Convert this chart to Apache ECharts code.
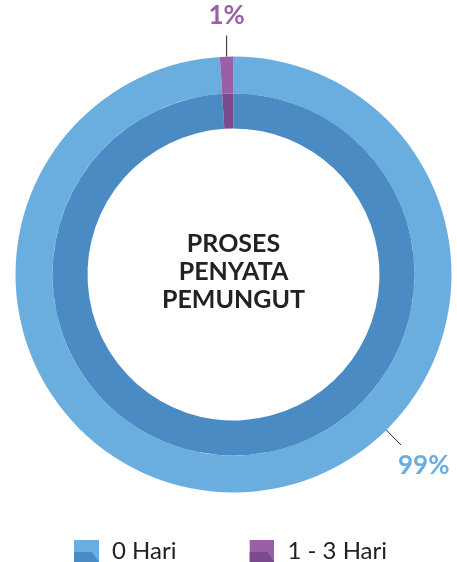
<!DOCTYPE html>
<html>
<head>
<meta charset="utf-8">
<script src="https://cdn.jsdelivr.net/npm/echarts@6/dist/echarts.min.js"></script>
<style>
  html, body { margin: 0; padding: 0; background: #ffffff; }
  #chart { width: 457px; height: 562px; }
</style>
</head>
<body>
<div id="chart"></div>
<script>
// Waktu proses penyata pemungut
const categories = ['0 Hari', '1 - 3 Hari'];
const shares = [99, 1];
const outerColors = ['#6aaee0', '#9b5fa9'];
const innerColors = ['#4a8bc4', '#7b4a8c'];
const centerTitle = 'PROSES\nPENYATA\nPEMUNGUT';

const FONT = 'Lato, "Noto Sans", sans-serif';
const CX = 233.5, CY = 274.5;
const R_OUT = 218, R_MID = 181, R_IN = 146;
const LINE_LEN = 21;
// the large share's caption sits at the lower right of the ring
const BIG_LABEL_ANGLE = -45.5;

function legendIcon(light, dark) {
  const svg = "<svg xmlns='http://www.w3.org/2000/svg' width='25' height='22' viewBox='0 0 25 22' preserveAspectRatio='none'>" +
    "<rect width='25' height='22' fill='" + light + "'/>" +
    "<polygon points='0,12 18,12 25,22 0,22' fill='" + dark + "'/></svg>";
  return 'image://data:image/svg+xml;charset=utf-8,' + encodeURIComponent(svg);
}

function polar(angleDeg, r) {
  const a = angleDeg * Math.PI / 180;
  return [CX + r * Math.cos(a), CY - r * Math.sin(a)];
}

const total = shares.reduce((s, v) => s + v, 0);
// mid angle of each slice, going clockwise from the top
const midAngles = [];
(function () {
  let start = 90;
  shares.forEach(v => {
    const span = 360 * v / total;
    midAngles.push(start - span / 2);
    start -= span;
  });
})();

const chart = echarts.init(document.getElementById('chart'), null, { renderer: 'canvas' });

chart.setOption({
  animation: false,
  legend: {
    left: 69,
    top: 534,
    itemWidth: 25,
    itemHeight: 22,
    itemGap: 73,
    textStyle: { fontFamily: FONT, fontSize: 24, color: '#222222', padding: [0, 0, 0, 8] },
    data: categories.map((c, i) => ({
      name: c,
      icon: legendIcon(outerColors[i], innerColors[i]),
      itemStyle: { borderWidth: 0 }
    }))
  },
  graphic: [{
    type: 'text',
    x: CX,
    y: 230,
    style: {
      text: centerTitle,
      align: 'center',
      verticalAlign: 'top',
      fontFamily: FONT,
      fontWeight: 'bold',
      fontSize: 25,
      lineHeight: 28,
      fill: '#222222'
    }
  }],
  series: [
    {
      name: 'outer',
      type: 'pie',
      center: [CX, CY],
      radius: [R_MID, R_OUT],
      startAngle: 90,
      clockwise: true,
      avoidLabelOverlap: false,
      itemStyle: { borderWidth: 0 },
      emphasis: { disabled: true },
      label: {
        show: true,
        position: 'outside',
        fontFamily: FONT,
        fontWeight: 'bold',
        fontSize: 26,
        formatter: p => p.value + '%'
      },
      labelLine: {
        show: true,
        length: LINE_LEN,
        length2: 0,
        lineStyle: { color: '#222222', width: 1 }
      },
      labelLayout: function (params) {
        const i = params.dataIndex;
        if (i === 0) {
          const p0 = polar(BIG_LABEL_ANGLE, R_OUT - 3);
          const p1 = polar(BIG_LABEL_ANGLE, R_OUT + LINE_LEN);
          return {
            x: p1[0] - 3,
            y: p1[1] + 8,
            align: 'left',
            verticalAlign: 'top',
            labelLinePoints: [p0, p1, p1]
          };
        }
        const p0 = polar(midAngles[i], R_OUT);
        const p1 = [p0[0], p0[1] - LINE_LEN];
        return {
          x: p1[0],
          y: p1[1] - 7,
          align: 'center',
          verticalAlign: 'bottom',
          labelLinePoints: [p0, p1, p1]
        };
      },
      data: categories.map((c, i) => ({
        name: c,
        value: shares[i],
        itemStyle: { color: outerColors[i] },
        label: { color: outerColors[i] }
      }))
    },
    {
      name: 'inner',
      type: 'pie',
      center: [CX, CY],
      radius: [R_IN, R_MID],
      startAngle: 90,
      clockwise: true,
      silent: true,
      legendHoverLink: false,
      itemStyle: { borderWidth: 0 },
      label: { show: false },
      labelLine: { show: false },
      data: categories.map((c, i) => ({
        name: c,
        value: shares[i],
        itemStyle: { color: innerColors[i] }
      }))
    }
  ]
});
</script>
</body>
</html>
